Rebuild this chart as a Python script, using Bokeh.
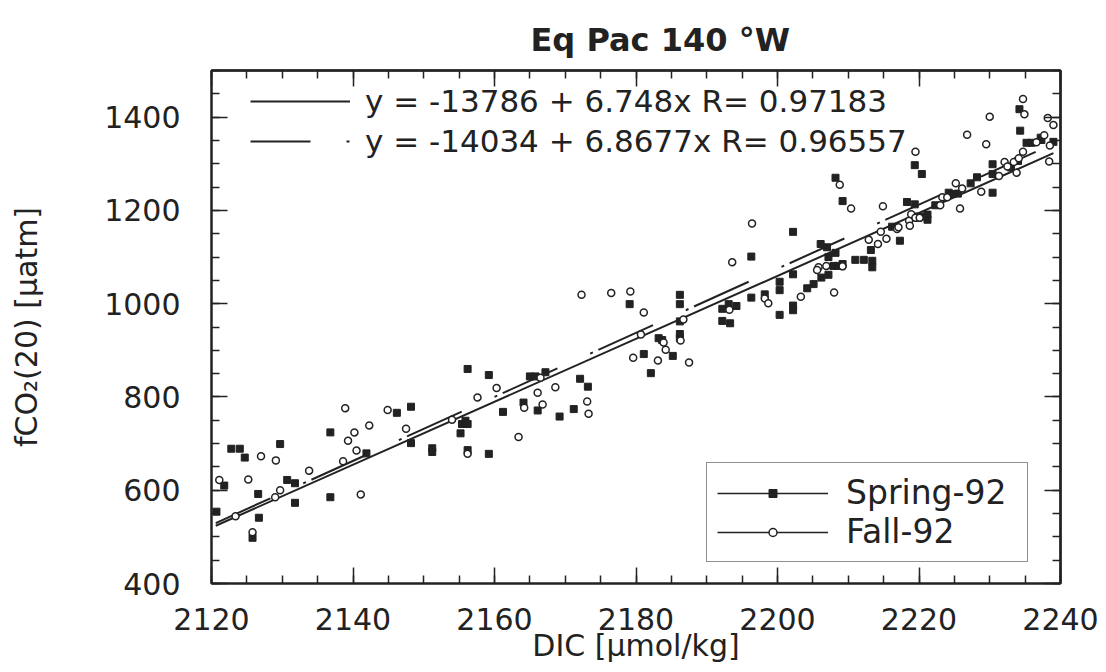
import numpy as np
from bokeh.plotting import figure
from bokeh.models import (LinearAxis, FixedTicker, Legend, LegendItem, Range1d)
from bokeh.embed import file_html
from bokeh.resources import INLINE

# ---------------- data ----------------
spring_dic = [2120.7, 2121.8, 2122.8, 2124.0, 2124.7, 2125.8, 2126.6, 2126.7, 2129.7, 2130.7,
              2131.8, 2131.8, 2136.8, 2136.8, 2141.9, 2146.2, 2148.2, 2148.2, 2151.2, 2151.2,
              2155.2, 2155.4, 2155.9, 2156.2, 2156.2, 2156.2, 2159.2, 2159.2, 2161.2, 2164.1,
              2165.0, 2165.8, 2166.1, 2167.2, 2169.2, 2171.2, 2172.1, 2173.2, 2179.1, 2181.1,
              2182.1, 2183.2, 2183.7, 2185.2, 2186.2, 2186.2, 2186.2, 2186.2, 2186.2, 2192.2,
              2193.1, 2194.2, 2192.2, 2193.3, 2196.3, 2196.3, 2198.2, 2200.3, 2200.3, 2200.3,
              2202.2, 2202.2, 2202.2, 2202.2, 2204.2, 2205.1, 2206.2, 2207.2, 2206.1, 2207.0,
              2208.2, 2207.2, 2207.9, 2208.6, 2209.2, 2208.2, 2209.2, 2211.0, 2212.2, 2213.4,
              2213.4, 2213.2, 2216.2, 2217.3, 2218.3, 2219.4, 2219.4, 2220.4, 2219.7, 2220.5,
              2221.2, 2221.2, 2222.3, 2224.2, 2224.7, 2225.5, 2227.3, 2228.2, 2230.4, 2230.4,
              2230.4, 2233.0, 2234.0, 2234.2, 2234.3, 2235.2, 2235.9, 2237.2, 2237.3, 2239.0]
spring_fco2 = [554, 610, 689, 689, 670, 498, 592, 541, 699, 622,
               615, 573, 724, 585, 679, 766, 779, 701, 690, 682,
               722, 742, 749, 742, 860, 686, 847, 678, 768, 788,
               844, 844, 771, 853, 758, 774, 839, 822, 999, 892,
               851, 926, 922, 888, 1019, 999, 962, 935, 926, 989,
               999, 995, 963, 958, 1101, 1013, 1020, 1047, 1029, 976,
               1154, 1063, 996, 986, 1033, 1042, 1056, 1062, 1128, 1121,
               1109, 1100, 1081, 1081, 1085, 1270, 1220, 1094, 1094, 1092,
               1078, 1115, 1165, 1135, 1218, 1213, 1297, 1278, 1187, 1187,
               1191, 1180, 1211, 1238, 1235, 1236, 1258, 1271, 1238, 1299,
               1278, 1292, 1306, 1417, 1371, 1345, 1345, 1356, 1351, 1347]

fall_dic = [2121.1, 2123.4, 2125.2, 2125.8, 2127.0, 2129.1, 2129.7, 2129.0, 2133.8, 2138.6,
            2138.9, 2139.3, 2140.2, 2140.5, 2141.1, 2142.3, 2144.9, 2147.5, 2154.0, 2156.2,
            2157.6, 2160.3, 2163.4, 2164.2, 2166.1, 2166.5, 2166.8, 2168.6, 2173.1, 2173.3,
            2172.3, 2176.5, 2179.2, 2179.6, 2180.7, 2181.1, 2183.1, 2183.9, 2184.2, 2186.7,
            2186.3, 2187.5, 2193.2, 2193.6, 2196.4, 2198.2, 2198.7, 2203.3, 2205.8, 2205.6,
            2206.9, 2209.2, 2208.0, 2208.8, 2210.4, 2212.9, 2214.2, 2214.6, 2214.9, 2215.4,
            2216.9, 2217.1, 2218.6, 2218.7, 2218.9, 2219.5, 2219.5, 2220.1, 2223.0, 2223.3,
            2224.0, 2225.2, 2225.8, 2226.1, 2226.8, 2228.8, 2229.5, 2230.0, 2231.3, 2232.1,
            2232.5, 2233.4, 2233.8, 2234.1, 2234.7, 2234.7, 2234.9, 2236.6, 2237.7, 2238.2,
            2238.4, 2238.5, 2239.0]
fall_fco2 = [622, 544, 623, 510, 673, 664, 600, 585, 642, 662,
             776, 706, 724, 685, 591, 739, 772, 732, 751, 678,
             799, 819, 714, 777, 809, 841, 784, 821, 790, 764,
             1019, 1023, 1026, 884, 934, 981, 878, 917, 901, 966,
             921, 874, 987, 1089, 1172, 1011, 1001, 1015, 1078, 1072,
             1081, 1080, 1024, 1255, 1204, 1137, 1128, 1154, 1209, 1139,
             1160, 1164, 1178, 1167, 1192, 1326, 1184, 1184, 1211, 1228,
             1228, 1258, 1204, 1247, 1362, 1240, 1342, 1401, 1274, 1304,
             1294, 1304, 1281, 1312, 1326, 1439, 1406, 1346, 1361, 1398,
             1305, 1339, 1383]

series_names = ["Spring-92", "Fall-92"]
fit_intercept = [-13786, -14034]
fit_slope = [6.748, 6.8677]
fit_r = [0.97183, 0.96557]
fit_dic_range = [2120.6, 2239.0]

x_major_ticks = [2120, 2140, 2160, 2180, 2200, 2220, 2240]
x_minor_ticks = list(range(2120, 2241, 5))
y_major_ticks = [400, 600, 800, 1000, 1200, 1400]
y_minor_ticks = list(range(400, 1501, 50))

title_text = "Eq Pac 140 °W"
x_label = "DIC [µmol/kg]"
y_label = "fCO₂(20) [µatm]"

FONT = "DejaVu Sans"
INK = "#222222"

# ---------------- figure ----------------
p = figure(width=1106, height=672, output_backend="svg", toolbar_location=None,
           x_range=Range1d(2120, 2240), y_range=Range1d(400, 1500),
           min_border_left=211, min_border_right=46, min_border_top=70, min_border_bottom=89,
           title=title_text)
p.grid.visible = False
p.background_fill_color = "white"
p.border_fill_color = "white"
p.outline_line_color = INK
p.outline_line_width = 2

p.title.text_font = FONT
p.title.text_font_size = "32px"
p.title.text_font_style = "bold"
p.title.text_color = INK
p.title.align = "left"
p.title.offset = 319
p.title.standoff = 23


def style_axis(ax):
    ax.axis_line_color = INK
    ax.axis_line_width = 2
    ax.major_tick_line_color = INK
    ax.minor_tick_line_color = INK
    ax.major_tick_line_width = 1.5
    ax.minor_tick_line_width = 1.5
    ax.major_tick_in = 16
    ax.major_tick_out = 0
    ax.minor_tick_in = 8
    ax.minor_tick_out = 0
    ax.major_label_text_font = FONT
    ax.major_label_text_color = INK
    ax.axis_label_text_font = FONT
    ax.axis_label_text_color = INK
    ax.axis_label_text_font_style = "normal"


xb = p.xaxis[0]
xb.ticker = FixedTicker(ticks=x_major_ticks, minor_ticks=x_minor_ticks)
style_axis(xb)
xb.major_label_text_font_size = "30px"
xb.major_label_standoff = 24
xb.axis_label = x_label
xb.axis_label_text_font_size = "30px"
xb.axis_label_standoff = -5

yl = p.yaxis[0]
yl.ticker = FixedTicker(ticks=y_major_ticks, minor_ticks=y_minor_ticks)
style_axis(yl)
yl.major_label_text_font_size = "30px"
yl.major_label_standoff = 31
yl.axis_label = y_label
yl.axis_label_text_font_size = "30px"
yl.axis_label_standoff = 57

# mirrored tick marks on the top and right edges (no labels)
for side, minor, major in (("above", x_minor_ticks, x_major_ticks),
                           ("right", y_minor_ticks, y_major_ticks)):
    for ticks, length in ((minor, 8), (major, 16)):
        ax = LinearAxis(ticker=FixedTicker(ticks=[], minor_ticks=ticks))
        style_axis(ax)
        ax.minor_tick_in = length
        ax.major_label_standoff = 0
        p.add_layout(ax, side)

# ---------------- fit lines ----------------
fit_dashes = ["solid", "60 36 3 6"]
fit_items = []
for a, b, r, dash in zip(fit_intercept, fit_slope, fit_r, fit_dashes):
    ys = [a + b * x for x in fit_dic_range]
    rl = p.line(fit_dic_range, ys, line_color=INK, line_width=2, line_dash=dash)
    fit_items.append(LegendItem(label=f"y = {a} + {b}x R= {r}", renderers=[rl]))

# ---------------- scatter ----------------
sp_line = p.line(x=np.array([np.nan]), y=np.array([np.nan]), line_color=INK, line_width=1.5)
sp = p.scatter(spring_dic, spring_fco2, marker="square", size=7,
               fill_color=INK, line_color=INK, line_width=1)
fa_line = p.line(x=np.array([np.nan]), y=np.array([np.nan]), line_color=INK, line_width=1.5)
fa = p.scatter(fall_dic, fall_fco2, marker="circle", size=7,
               fill_color="white", line_color=INK, line_width=1.5)

fit_legend = Legend(items=fit_items, location=(39, 424), padding=0, margin=0,
                    spacing=4, glyph_width=100, label_standoff=15,
                    label_text_font=FONT, label_text_font_size="31px",
                    label_text_color=INK, border_line_alpha=0,
                    background_fill_alpha=0)
p.add_layout(fit_legend)

series_legend = Legend(items=[LegendItem(label=series_names[0], renderers=[sp_line, sp]),
                              LegendItem(label=series_names[1], renderers=[fa_line, fa])],
                       location=(495, 21), padding=10, margin=0, spacing=0,
                       glyph_width=111, label_standoff=18, label_width=171,
                       label_text_font=FONT, label_text_font_size="33px",
                       label_text_color=INK, border_line_color=INK,
                       border_line_width=1.5, background_fill_color="white",
                       background_fill_alpha=1)
p.add_layout(series_legend)

open("out.html", "w").write(file_html(p, INLINE))
